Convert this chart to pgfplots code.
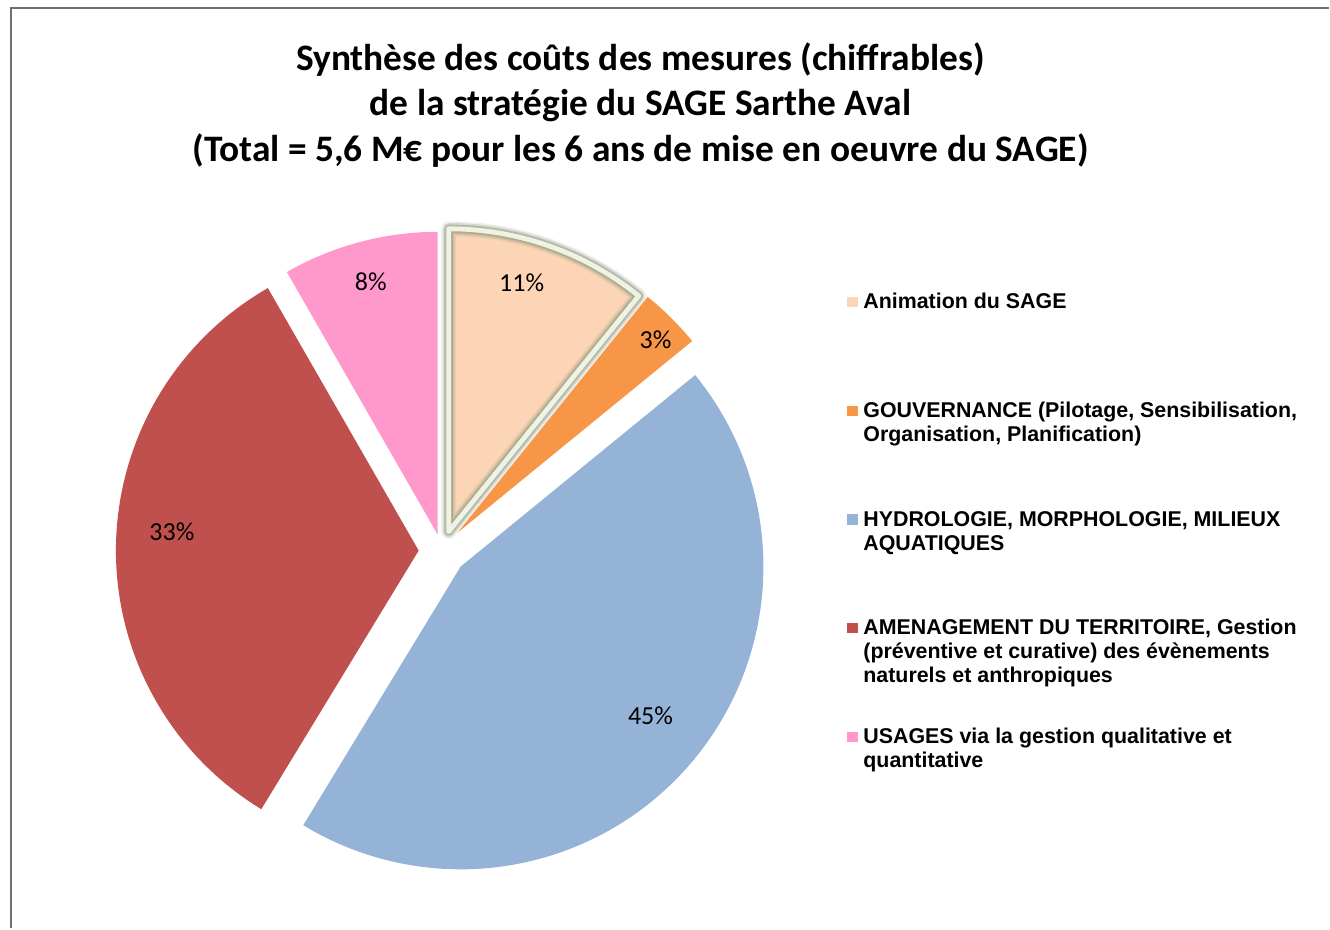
\documentclass[border=0pt]{standalone}
\usepackage{pgfplots}
\pgfplotsset{compat=1.18}
\usepackage{fontspec}
\setmainfont{Carlito}
\newfontfamily\legfont{Liberation Sans}
\definecolor{cAnim}{HTML}{FBD5B5}
\definecolor{cGouv}{HTML}{F79646}
\definecolor{cHydro}{HTML}{95B3D7}
\definecolor{cAmen}{HTML}{C0504D}
\definecolor{cUsag}{HTML}{FF99CC}
\definecolor{glowA}{HTML}{949C84}
\definecolor{glowB}{HTML}{EEF3E3}
\definecolor{frameC}{HTML}{707070}
% shares (percent) of the pie
\def\vAnim{10.8}
\def\vGouv{3.3}
\def\vHydro{44.6}
\def\vAmen{33.0}
\def\vUsag{8.3}
\pgfmathsetmacro{\aA}{90}
\pgfmathsetmacro{\aB}{\aA-3.6*\vAnim}
\pgfmathsetmacro{\aC}{\aB-3.6*\vGouv}
\pgfmathsetmacro{\aD}{\aC-3.6*\vHydro}
\pgfmathsetmacro{\aE}{\aD-3.6*\vAmen}
\pgfmathsetmacro{\aF}{\aE-3.6*\vUsag}
\def\R{303}
\def\nl{\par}
\newcommand{\legentry}[1]{\vtop to 54.4pt{\hsize=230pt\parindent=0pt\parskip=0pt\raggedright\leavevmode\strut#1\par\vfill}}
\begin{document}
\begin{tikzpicture}
\begin{axis}[
  scale only axis, width=665pt, height=464.5pt,
  xmin=0, xmax=1330, ymin=0, ymax=929,
  hide axis, clip=false,
  legend style={at={(axis description cs:0.6376,0.6855)}, anchor=north west,
    draw=none, fill=none, inner sep=0pt, outer sep=0pt, row sep=0pt, column sep=2.8pt,
    font=\legfont\bfseries\fontsize{10.7}{12}\selectfont,
    nodes={inner sep=0pt, text depth=, anchor=base west},
    cells={anchor=base west}},
  legend image code/.code={\fill[#1] (0pt,0.7pt) rectangle (5.2pt,5.9pt);},
]
\path (axis cs:0,0) rectangle (axis cs:1330,929);
% frame
\draw[frameC, line width=1pt] (axis cs:11,0) -- (axis cs:11,921) -- (axis cs:1330,921);
% slices
\addplot[draw=none, fill=cAnim, domain=\aB:\aA, samples=60, variable=\t]
  ({449+\R*cos(\t)},{397+\R*sin(\t)}) -- (axis cs:449,397) -- cycle;
\addlegendentry{\legentry{Animation du SAGE}}
\addplot[forget plot, draw=glowA, line width=7.5pt, opacity=0.15, line join=round, fill=none, domain=\aB:\aA, samples=60, variable=\t]
  ({449+\R*cos(\t)},{397+\R*sin(\t)}) -- (axis cs:449,397) -- cycle;
\addplot[forget plot, draw=glowA, line width=5.8pt, opacity=0.3, line join=round, fill=none, domain=\aB:\aA, samples=60, variable=\t]
  ({449+\R*cos(\t)},{397+\R*sin(\t)}) -- (axis cs:449,397) -- cycle;
\addplot[forget plot, draw=glowA, line width=4.2pt, opacity=0.5, line join=round, fill=none, domain=\aB:\aA, samples=60, variable=\t]
  ({449+\R*cos(\t)},{397+\R*sin(\t)}) -- (axis cs:449,397) -- cycle;
\addplot[forget plot, draw=glowB, line width=2.4pt, line join=round, fill=none, domain=\aB:\aA, samples=60, variable=\t]
  ({449+\R*cos(\t)},{397+\R*sin(\t)}) -- (axis cs:449,397) -- cycle;
\addplot[draw=none, fill=cGouv, domain=\aC:\aB, samples=30, variable=\t]
  ({458+\R*cos(\t)},{396+\R*sin(\t)}) -- (axis cs:458,396) -- cycle;
\addlegendentry{\legentry{GOUVERNANCE (Pilotage, Sensibilisation,\nl Organisation, Planification)}}
\addplot[draw=none, fill=cHydro, domain=\aD:\aC, samples=120, variable=\t]
  ({461+\R*cos(\t)},{362+\R*sin(\t)}) -- (axis cs:461,362) -- cycle;
\addlegendentry{\legentry{HYDROLOGIE, MORPHOLOGIE, MILIEUX\nl AQUATIQUES}}
\addplot[draw=none, fill=cAmen, domain=\aE:\aD, samples=100, variable=\t]
  ({419+\R*cos(\t)},{378+\R*sin(\t)}) -- (axis cs:419,378) -- cycle;
\addlegendentry{\legentry{AMENAGEMENT DU TERRITOIRE, Gestion\nl (préventive et curative) des évènements\nl naturels et anthropiques}}
\addplot[draw=none, fill=cUsag, domain=\aF:\aE, samples=40, variable=\t]
  ({438+\R*cos(\t)},{394+\R*sin(\t)}) -- (axis cs:438,394) -- cycle;
\addlegendentry{\legentry{USAGES via la gestion qualitative et\nl quantitative}}
% percentage labels
\node[font=\fontsize{13}{15}\selectfont] at (axis cs:522,646) {11\%};
\node[font=\fontsize{13}{15}\selectfont] at (axis cs:656,589) {3\%};
\node[font=\fontsize{13}{15}\selectfont] at (axis cs:651,213) {45\%};
\node[font=\fontsize{13}{15}\selectfont] at (axis cs:172,397) {33\%};
\node[font=\fontsize{13}{15}\selectfont] at (axis cs:371,647) {8\%};
% title
\node[anchor=base, font=\bfseries\fontsize{18.7}{23}\selectfont] at (axis cs:641,858.7) {Synthèse des coûts des mesures (chiffrables)};
\node[anchor=base, font=\bfseries\fontsize{18.7}{23}\selectfont] at (axis cs:641,813.1) {de la stratégie du SAGE Sarthe Aval};
\node[anchor=base, font=\bfseries\fontsize{18.7}{23}\selectfont] at (axis cs:641,767.5) {(Total = 5,6 M€ pour les 6 ans de mise en oeuvre du SAGE)};
\end{axis}
\end{tikzpicture}
\end{document}
